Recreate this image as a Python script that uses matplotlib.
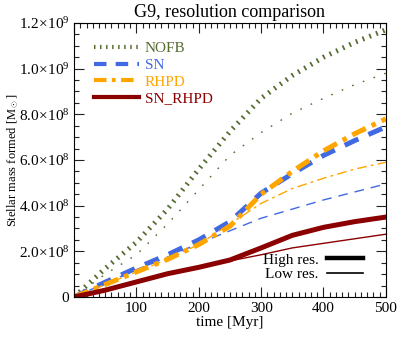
import matplotlib
matplotlib.use("Agg")
import matplotlib.pyplot as plt
from matplotlib.lines import Line2D
from matplotlib.ticker import FuncFormatter, MultipleLocator

plt.rcParams['font.family'] = ['Liberation Serif', 'DejaVu Serif']
plt.rcParams['mathtext.fontset'] = 'custom'
plt.rcParams['mathtext.rm'] = 'Liberation Serif'
plt.rcParams['mathtext.it'] = 'Liberation Serif:italic'

# time grid (Myr)
t = [0, 50, 100, 150, 200, 250, 300, 350, 400, 450, 500]

# high resolution
nofb_hi = [0, 1.25e8, 2.4e8, 3.85e8, 5.6e8, 7.25e8, 8.7e8, 9.7e8, 1.05e9, 1.115e9, 1.17e9]
sn_hi = [0, 6.5e7, 1.27e8, 1.85e8, 2.5e8, 3.3e8, 4.55e8, 5.4e8, 6.2e8, 6.85e8, 7.45e8]
rhpd_hi = [0, 5.5e7, 1.1e8, 1.65e8, 2.3e8, 3.1e8, 4.5e8, 5.5e8, 6.4e8, 7.15e8, 7.8e8]
snrhpd_hi = [0, 3e7, 6.6e7, 1.02e8, 1.3e8, 1.62e8, 2.15e8, 2.7e8, 3.05e8, 3.3e8, 3.5e8]

# low resolution
nofb_lo = [0, 1.0e8, 1.85e8, 3.2e8, 4.7e8, 6.2e8, 7.2e8, 8.05e8, 8.7e8, 9.3e8, 9.8e8]
sn_lo = [0, 6e7, 1.2e8, 1.75e8, 2.35e8, 2.9e8, 3.45e8, 3.85e8, 4.25e8, 4.6e8, 4.95e8]
rhpd_lo = [0, 5.5e7, 1.1e8, 1.65e8, 2.3e8, 3.2e8, 4.1e8, 4.75e8, 5.2e8, 5.6e8, 5.9e8]
snrhpd_lo = [0, 3e7, 6.6e7, 1.0e8, 1.3e8, 1.58e8, 1.85e8, 2.15e8, 2.35e8, 2.55e8, 2.75e8]

names = ['NOFB', 'SN', 'RHPD', 'SN_RHPD']
colors = ['#556b2f', '#4169e1', '#ffa500', '#8b0000']
styles = [(0, (0.35, 1.1)), (0, (3.0, 2.2)), (0, (3.0, 1.3, 0.9, 1.3)), '-']
styles_lo = [(0, (1.2, 7.0)), (0, (7, 5)), (0, (7, 3, 2, 3)), '-']
hi = [nofb_hi, sn_hi, rhpd_hi, snrhpd_hi]
lo = [nofb_lo, sn_lo, rhpd_lo, snrhpd_lo]

fig = plt.figure(figsize=(4.07, 3.46), dpi=100)
ax = fig.add_axes([0.182, 0.1416, 0.766, 0.792])

for c, s, sl, yh, yl in zip(colors, styles, styles_lo, hi, lo):
    ax.plot(t, yh, color=c, linestyle=s, lw=3.6)
    ax.plot(t, yl, color=c, linestyle=sl, lw=1.0)

ax.set_xlim(0, 500)
ax.set_ylim(0, 1.2e9)
ax.xaxis.set_major_locator(MultipleLocator(100))
ax.xaxis.set_minor_locator(MultipleLocator(10))
ax.yaxis.set_major_locator(MultipleLocator(2e8))
ax.yaxis.set_minor_locator(MultipleLocator(5e7))

def xfmt(v, p):
    return '' if v == 0 else '%d' % v

def yfmt(v, p):
    if v == 0:
        return '0'
    e = 9 if v >= 1e9 - 1 else 8
    return r'$%.1f\!\times\!10^{%d}$' % (v / 10**e, e)

ax.xaxis.set_major_formatter(FuncFormatter(xfmt))
ax.yaxis.set_major_formatter(FuncFormatter(yfmt))
ax.tick_params(which='both', direction='in', top=True, right=True, labelsize=11, color='#222222')
ax.tick_params(which='major', length=7, width=0.8)
ax.tick_params(which='minor', length=3.5, width=0.8)
for sp in ax.spines.values():
    sp.set_linewidth(0.8)

ax.set_title('G9, resolution comparison', fontsize=13, pad=4)
ax.set_xlabel('time [Myr]', fontsize=11, labelpad=1)
ax.set_ylabel(r'Stellar mass formed [M$_\odot$]', fontsize=9)
ax.yaxis.set_label_coords(-0.17, 0.5)

handles = [Line2D([], [], color=c, linestyle=s, lw=3) for c, s in zip(colors, styles)]
leg1 = ax.legend(handles, names, loc='upper left', bbox_to_anchor=(0.045, 0.955),
                 frameon=False, fontsize=11, handlelength=2.9, handletextpad=0.4,
                 labelspacing=0.2, borderaxespad=0)
for txt, c in zip(leg1.get_texts(), colors):
    txt.set_color(c)
ax.add_artist(leg1)

h2 = [Line2D([], [], color='black', lw=3.2), Line2D([], [], color='black', lw=1.2)]
ax.legend(h2, ['High res.', 'Low res.'], loc='lower right', bbox_to_anchor=(0.945, 0.035),
          frameon=False, fontsize=11, markerfirst=False, handlelength=2.3,
          handletextpad=0.6, labelspacing=0.05, borderaxespad=0)

fig.savefig('out.png', dpi=100)
